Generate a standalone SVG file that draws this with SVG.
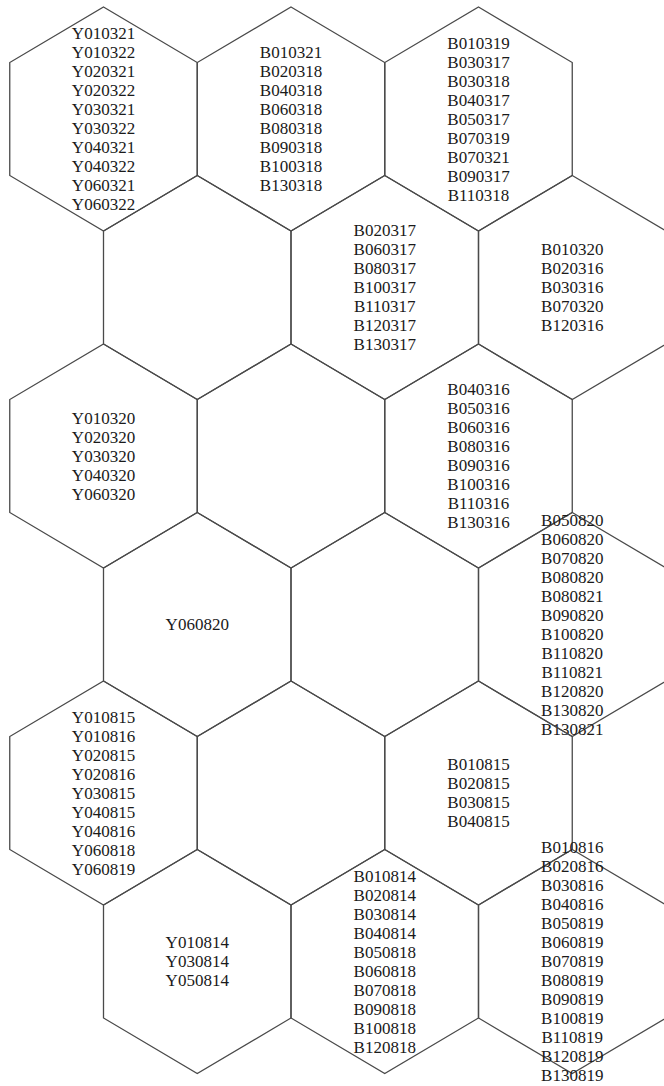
<svg xmlns="http://www.w3.org/2000/svg" xmlns:xlink="http://www.w3.org/1999/xlink" width="664" height="1086" viewBox="0 0 664 1086">
<style>
.hex{fill:none;stroke:#4a4a4a;stroke-width:1.3}
.lbl{font-family:"Liberation Serif","Times New Roman",serif;font-size:17px;fill:#1a1a1a;text-anchor:middle}
</style>
<defs>
<polygon id="hex" class="hex" points="0,-112 93.75,-56.5 93.75,56.5 0,112 -93.75,56.5 -93.75,-56.5"/>
</defs>
<rect width="664" height="1086" fill="#ffffff"/>
<g id="connectors"/>
<g id="n-r0c0" transform="translate(103.5,119)"><use href="#hex"/>
<text class="lbl" y="-80"><tspan x="0">Y010321</tspan><tspan x="0" dy="19">Y010322</tspan><tspan x="0" dy="19">Y020321</tspan><tspan x="0" dy="19">Y020322</tspan><tspan x="0" dy="19">Y030321</tspan><tspan x="0" dy="19">Y030322</tspan><tspan x="0" dy="19">Y040321</tspan><tspan x="0" dy="19">Y040322</tspan><tspan x="0" dy="19">Y060321</tspan><tspan x="0" dy="19">Y060322</tspan></text></g>
<g id="n-r0c1" transform="translate(291,119)"><use href="#hex"/>
<text class="lbl" y="-61"><tspan x="0">B010321</tspan><tspan x="0" dy="19">B020318</tspan><tspan x="0" dy="19">B040318</tspan><tspan x="0" dy="19">B060318</tspan><tspan x="0" dy="19">B080318</tspan><tspan x="0" dy="19">B090318</tspan><tspan x="0" dy="19">B100318</tspan><tspan x="0" dy="19">B130318</tspan></text></g>
<g id="n-r0c2" transform="translate(478.5,119)"><use href="#hex"/>
<text class="lbl" y="-70.5"><tspan x="0">B010319</tspan><tspan x="0" dy="19">B030317</tspan><tspan x="0" dy="19">B030318</tspan><tspan x="0" dy="19">B040317</tspan><tspan x="0" dy="19">B050317</tspan><tspan x="0" dy="19">B070319</tspan><tspan x="0" dy="19">B070321</tspan><tspan x="0" dy="19">B090317</tspan><tspan x="0" dy="19">B110318</tspan></text></g>
<g id="n-r1c0" transform="translate(197.25,287.5)"><use href="#hex"/></g>
<g id="n-r1c1" transform="translate(384.75,287.5)"><use href="#hex"/>
<text class="lbl" y="-51.5"><tspan x="0">B020317</tspan><tspan x="0" dy="19">B060317</tspan><tspan x="0" dy="19">B080317</tspan><tspan x="0" dy="19">B100317</tspan><tspan x="0" dy="19">B110317</tspan><tspan x="0" dy="19">B120317</tspan><tspan x="0" dy="19">B130317</tspan></text></g>
<g id="n-r1c2" transform="translate(572.25,287.5)"><use href="#hex"/>
<text class="lbl" y="-32.5"><tspan x="0">B010320</tspan><tspan x="0" dy="19">B020316</tspan><tspan x="0" dy="19">B030316</tspan><tspan x="0" dy="19">B070320</tspan><tspan x="0" dy="19">B120316</tspan></text></g>
<g id="n-r2c0" transform="translate(103.5,456)"><use href="#hex"/>
<text class="lbl" y="-32.5"><tspan x="0">Y010320</tspan><tspan x="0" dy="19">Y020320</tspan><tspan x="0" dy="19">Y030320</tspan><tspan x="0" dy="19">Y040320</tspan><tspan x="0" dy="19">Y060320</tspan></text></g>
<g id="n-r2c1" transform="translate(291,456)"><use href="#hex"/></g>
<g id="n-r2c2" transform="translate(478.5,456)"><use href="#hex"/>
<text class="lbl" y="-61"><tspan x="0">B040316</tspan><tspan x="0" dy="19">B050316</tspan><tspan x="0" dy="19">B060316</tspan><tspan x="0" dy="19">B080316</tspan><tspan x="0" dy="19">B090316</tspan><tspan x="0" dy="19">B100316</tspan><tspan x="0" dy="19">B110316</tspan><tspan x="0" dy="19">B130316</tspan></text></g>
<g id="n-r3c0" transform="translate(197.25,624.5)"><use href="#hex"/>
<text class="lbl" y="5.5"><tspan x="0">Y060820</tspan></text></g>
<g id="n-r3c1" transform="translate(384.75,624.5)"><use href="#hex"/></g>
<g id="n-r3c2" transform="translate(572.25,624.5)"><use href="#hex"/>
<text class="lbl" y="-99"><tspan x="0">B050820</tspan><tspan x="0" dy="19">B060820</tspan><tspan x="0" dy="19">B070820</tspan><tspan x="0" dy="19">B080820</tspan><tspan x="0" dy="19">B080821</tspan><tspan x="0" dy="19">B090820</tspan><tspan x="0" dy="19">B100820</tspan><tspan x="0" dy="19">B110820</tspan><tspan x="0" dy="19">B110821</tspan><tspan x="0" dy="19">B120820</tspan><tspan x="0" dy="19">B130820</tspan><tspan x="0" dy="19">B130821</tspan></text></g>
<g id="n-r4c0" transform="translate(103.5,793)"><use href="#hex"/>
<text class="lbl" y="-70.5"><tspan x="0">Y010815</tspan><tspan x="0" dy="19">Y010816</tspan><tspan x="0" dy="19">Y020815</tspan><tspan x="0" dy="19">Y020816</tspan><tspan x="0" dy="19">Y030815</tspan><tspan x="0" dy="19">Y040815</tspan><tspan x="0" dy="19">Y040816</tspan><tspan x="0" dy="19">Y060818</tspan><tspan x="0" dy="19">Y060819</tspan></text></g>
<g id="n-r4c1" transform="translate(291,793)"><use href="#hex"/></g>
<g id="n-r4c2" transform="translate(478.5,793)"><use href="#hex"/>
<text class="lbl" y="-23"><tspan x="0">B010815</tspan><tspan x="0" dy="19">B020815</tspan><tspan x="0" dy="19">B030815</tspan><tspan x="0" dy="19">B040815</tspan></text></g>
<g id="n-r5c0" transform="translate(197.25,961.5)"><use href="#hex"/>
<text class="lbl" y="-13.5"><tspan x="0">Y010814</tspan><tspan x="0" dy="19">Y030814</tspan><tspan x="0" dy="19">Y050814</tspan></text></g>
<g id="n-r5c1" transform="translate(384.75,961.5)"><use href="#hex"/>
<text class="lbl" y="-80"><tspan x="0">B010814</tspan><tspan x="0" dy="19">B020814</tspan><tspan x="0" dy="19">B030814</tspan><tspan x="0" dy="19">B040814</tspan><tspan x="0" dy="19">B050818</tspan><tspan x="0" dy="19">B060818</tspan><tspan x="0" dy="19">B070818</tspan><tspan x="0" dy="19">B090818</tspan><tspan x="0" dy="19">B100818</tspan><tspan x="0" dy="19">B120818</tspan></text></g>
<g id="n-r5c2" transform="translate(572.25,961.5)"><use href="#hex"/>
<text class="lbl" y="-108.5"><tspan x="0">B010816</tspan><tspan x="0" dy="19">B020816</tspan><tspan x="0" dy="19">B030816</tspan><tspan x="0" dy="19">B040816</tspan><tspan x="0" dy="19">B050819</tspan><tspan x="0" dy="19">B060819</tspan><tspan x="0" dy="19">B070819</tspan><tspan x="0" dy="19">B080819</tspan><tspan x="0" dy="19">B090819</tspan><tspan x="0" dy="19">B100819</tspan><tspan x="0" dy="19">B110819</tspan><tspan x="0" dy="19">B120819</tspan><tspan x="0" dy="19">B130819</tspan></text></g>
</svg>
